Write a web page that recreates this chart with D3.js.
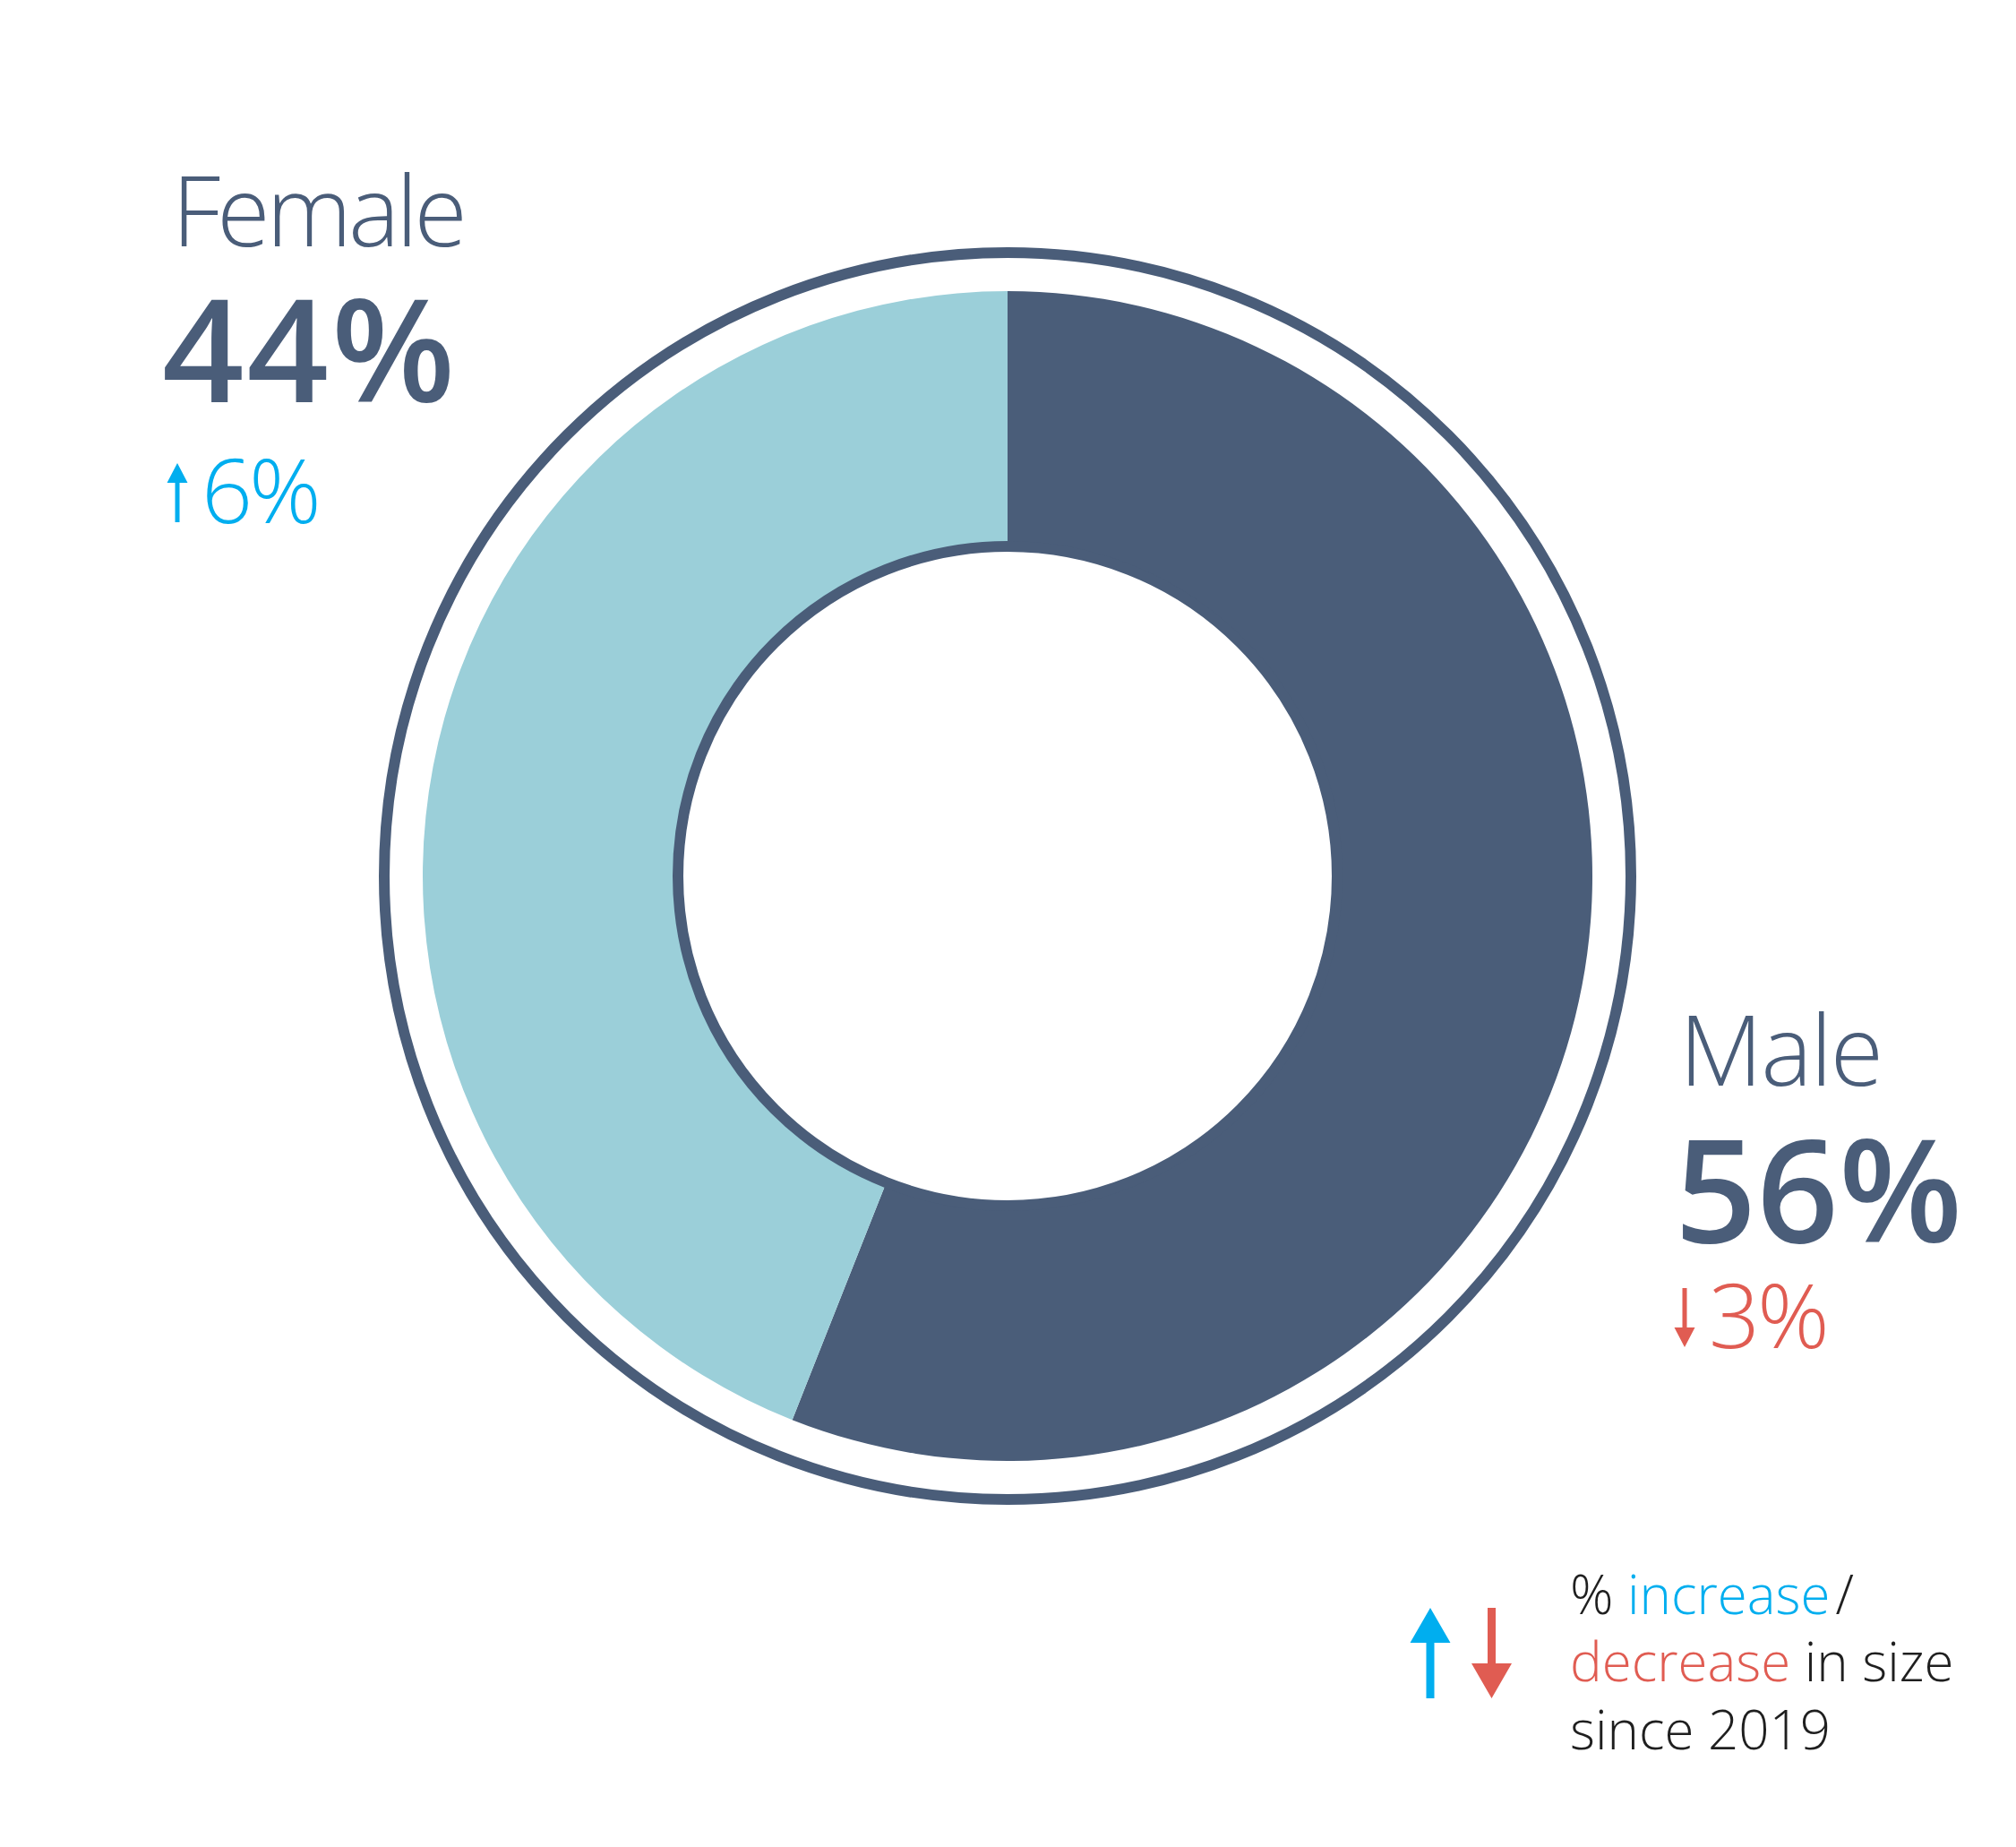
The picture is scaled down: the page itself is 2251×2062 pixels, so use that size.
<!DOCTYPE html>
<html><head><meta charset="utf-8">
<script src="https://cdn.jsdelivr.net/npm/d3@7"></script>
<style>
html,body{margin:0;padding:0;background:#fff;}
svg{display:block;font-family:"Open Sans",sans-serif;}
</style></head>
<body>
<svg id="chart" width="2251" height="2062"></svg>
<script>
// ---- data ----
const categories = ["Male", "Female"];
const shares = [56, 44];            // % of total
const changes = [-3, 6];            // % change since 2019
const legendYear = "2019";

// ---- style ----
const DARK = "#4a5d79", LIGHT = "#9bcfd9", UP = "#00aeef", DOWN = "#e05c52", INK = "#1f1f1f";
const fillFor = { Male: DARK, Female: LIGHT };

const svg = d3.select("#chart");
const cx = 1125, cy = 978;
const outerR = 653, innerR = 368, ringR = 696;

const g = svg.append("g").attr("transform", `translate(${cx},${cy})`);

// outer ring
g.append("circle").attr("r", ringR).attr("fill", "none").attr("stroke", DARK).attr("stroke-width", 12);

const data = categories.map((c, i) => ({ cat: c, value: shares[i], change: changes[i] }));
const pie = d3.pie().sort(null).value(d => d.value);
const arc = d3.arc().innerRadius(innerR).outerRadius(outerR);

g.selectAll("path.slice").data(pie(data)).join("path")
  .attr("class", "slice")
  .attr("d", arc)
  .attr("fill", d => fillFor[d.data.cat]);

// inner circle
g.append("circle").attr("r", innerR).attr("fill", "#fff").attr("stroke", DARK).attr("stroke-width", 12);

// ---- labels ----
const labelPos = {
  Female: { x: 192, name: 275, pct: 449, chg: 584, arrowX: 198, nameLS: -4, pctLS: 3, chgLS: -4, pctDx: -14 },
  Male:   { x: 1875, name: 1212, pct: 1387, chg: 1505, arrowX: 1881, nameLS: -2, pctLS: 0, chgLS: -3, pctDx: -8 }
};

function arrow(sel, x, yTop, yBot, dir, color, shaftW, headW, headH) {
  let p;
  if (dir > 0) {
    p = `M${x},${yTop} L${x + headW / 2},${yTop + headH} L${x + shaftW / 2},${yTop + headH} L${x + shaftW / 2},${yBot} L${x - shaftW / 2},${yBot} L${x - shaftW / 2},${yTop + headH} L${x - headW / 2},${yTop + headH} Z`;
  } else {
    p = `M${x},${yBot} L${x + headW / 2},${yBot - headH} L${x + shaftW / 2},${yBot - headH} L${x + shaftW / 2},${yTop} L${x - shaftW / 2},${yTop} L${x - shaftW / 2},${yBot - headH} L${x - headW / 2},${yBot - headH} Z`;
  }
  sel.append("path").attr("d", p).attr("fill", color);
}

data.forEach(d => {
  const lp = labelPos[d.cat];
  svg.append("text").attr("x", lp.x).attr("y", lp.name)
    .attr("font-size", 108).attr("font-weight", 300).attr("fill", DARK)
    .attr("letter-spacing", lp.nameLS)
    .text(d.cat);
  svg.append("text").attr("x", lp.x + lp.pctDx + 3).attr("y", lp.pct)
    .attr("font-size", 160).attr("font-weight", 600).attr("fill", DARK)
    .attr("letter-spacing", lp.pctLS)
    .text(d.value + "%");
  const up = d.change > 0;
  const col = up ? UP : DOWN;
  arrow(svg, lp.arrowX, lp.chg - 67, lp.chg - 1, up ? 1 : -1, col, 5, 23, 22);
  svg.append("text").attr("x", lp.x + 33).attr("y", lp.chg)
    .attr("font-size", 100).attr("font-weight", 300).attr("fill", col)
    .attr("letter-spacing", lp.chgLS)
    .text(Math.abs(d.change) + "%");
});

// ---- legend ----
arrow(svg, 1597, 1795, 1896, 1, UP, 9, 45, 39);
arrow(svg, 1665.5, 1795, 1896, -1, DOWN, 9, 45, 39);

const leg = svg.append("text").attr("font-size", 60).attr("font-weight", 300).attr("fill", INK);
const l1 = leg.append("tspan").attr("x", 1753).attr("y", 1802);
l1.append("tspan").text("% ");
l1.append("tspan").attr("fill", UP).text("increase");
l1.append("tspan").attr("dx", 6).text("/");
const l2 = leg.append("tspan").attr("x", 1753).attr("y", 1877);
l2.append("tspan").attr("fill", DOWN).text("decrease");
l2.append("tspan").text(" in size");
leg.append("tspan").attr("x", 1753).attr("y", 1953).text("since " + legendYear);
</script>
</body></html>
